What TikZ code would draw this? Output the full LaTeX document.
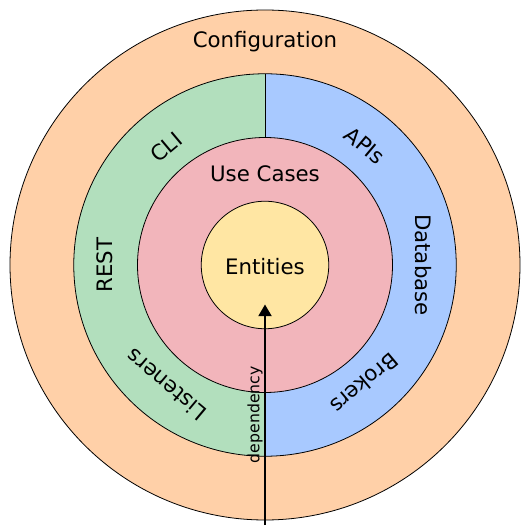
\documentclass[tikz,border=0pt]{standalone}
\usepackage{fontspec}
\setmainfont{DejaVu Sans}
\usetikzlibrary{arrows.meta}
\usepackage{xcolor}

\definecolor{confpeach}{RGB}{255,208,168}
\definecolor{adaptgreen}{RGB}{178,223,189}
\definecolor{adaptblue}{RGB}{168,201,255}
\definecolor{casepink}{RGB}{242,181,187}
\definecolor{entyellow}{RGB}{255,230,163}

\begin{document}
\begin{tikzpicture}[
    x=1.684cm, y=1.684cm,
    ring/.style={draw=black, line width=0.6pt},
    lbl/.style={font=\fontsize{16}{18}\selectfont, inner sep=0pt},
    deplbl/.style={font=\fontsize{11.8}{13}\selectfont, inner sep=1.2pt},
    arrow/.style={-{Triangle[length=8.8pt, width=10pt]}, line width=1pt}
]
\useasboundingbox (-4.157,-4.157) rectangle (4.157,4.157);

% outer ring
\filldraw[ring, fill=confpeach] (0,0) circle[radius=4];

% interface adapters, split in two halves
\fill[adaptgreen] (0,3) arc[start angle=90, end angle=270, radius=3] -- cycle;
\fill[adaptblue] (0,-3) arc[start angle=-90, end angle=90, radius=3] -- cycle;
\draw[ring] (0,0) circle[radius=3];
\draw[ring] (0,3) -- (0,-3);

% use cases and entities
\filldraw[ring, fill=casepink] (0,0) circle[radius=2];
\filldraw[ring, fill=entyellow] (0,0) circle[radius=1];

\node[lbl] (config) at (0,3.50) {Configuration};
\node[lbl] (usecases) at (0,1.43) {Use Cases};
\node[lbl] (entities) at (0,-0.02) {Entities};

\node[lbl, rotate=40] (cli) at (130:2.41) {CLI};
\node[lbl, rotate=-40] (apis) at (50:2.44) {APIs};
\node[lbl, rotate=90] (rest) at (180:2.51) {REST};
\node[lbl, rotate=-90] (database) at (0:2.49) {Database};
\node[lbl, rotate=140] (listeners) at (230.5:2.44) {Listeners};
\node[lbl, rotate=-140] (brokers) at (310:2.43) {Brokers};

% dependency rule
\coordinate (depstart) at (0,-4.08);
\coordinate (deptip) at (0,-0.62);
\draw[arrow] (depstart) -- node[deplbl, midway, sloped, above] {dependency} (deptip);
\end{tikzpicture}
\end{document}
